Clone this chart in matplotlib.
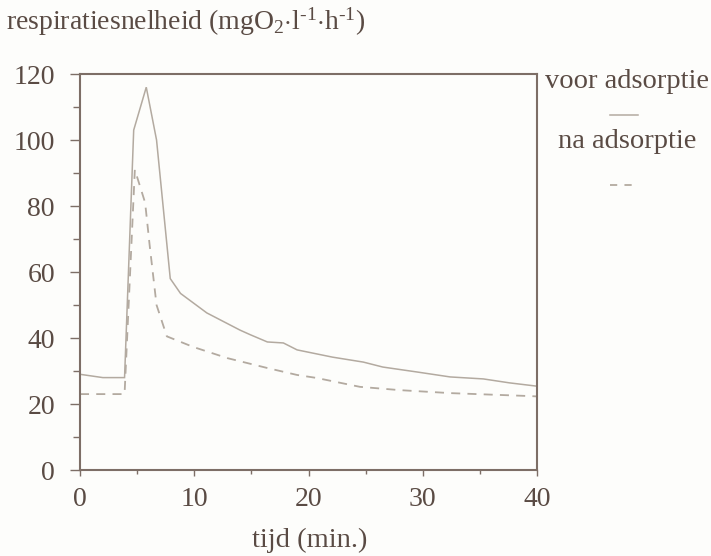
import matplotlib
matplotlib.use("Agg")
import matplotlib.pyplot as plt
from matplotlib.lines import Line2D

plt.rcParams['font.family'] = ['Liberation Serif', 'DejaVu Serif']
plt.rcParams['mathtext.fontset'] = 'custom'
plt.rcParams['mathtext.rm'] = 'Liberation Serif'
plt.rcParams['mathtext.it'] = 'Liberation Serif:italic'

# data
voor_t = [0, 2, 3.9, 4.7, 5.8, 6.7, 7.9, 8.8, 11.1, 14.0, 14.9, 16.4, 17.8, 19.0, 22.1, 24.8, 26.5, 29.5, 32.4, 35.3, 37.6, 40]
voor_r = [29, 28, 28, 103, 116, 100, 58, 53.5, 47.6, 42.4, 41, 38.8, 38.5, 36.4, 34.2, 32.7, 31.2, 29.7, 28.2, 27.6, 26.4, 25.4]
na_t = [0, 3.9, 4.8, 5.7, 6.1, 6.7, 7.6, 9.9, 12.9, 16.4, 19.0, 20.7, 24.5, 28.0, 32.4, 39.4, 40]
na_r = [23, 23, 91, 81, 68, 50, 40.5, 37.3, 33.9, 30.9, 28.8, 27.9, 25.2, 24.2, 23.3, 22.4, 22.3]
x_ticks = [0, 10, 20, 30, 40]
y_ticks = [0, 20, 40, 60, 80, 100, 120]

frame_c = '#7d6e66'
line_c = '#b3aaa0'
text_c = '#5a4b44'

fig = plt.figure(figsize=(7.11, 5.56), dpi=100)
fig.patch.set_facecolor('#fdfdfb')
ax = fig.add_axes([80/711, 1-470/556, (537-80)/711, (470-74)/556])
ax.set_facecolor('#fdfdfb')

ax.plot(voor_t, voor_r, color=line_c, lw=1.1, solid_joinstyle='miter')
ax.plot(na_t, na_r, color=line_c, lw=1.3, linestyle=(0, (5, 4)))

ax.set_xlim(0, 40)
ax.set_ylim(0, 120)
ax.set_xticks(x_ticks)
ax.set_yticks(y_ticks)
ax.set_xticks(range(0, 41, 5), minor=True)
ax.set_yticks(range(0, 121, 10), minor=True)
for s in ax.spines.values():
    s.set_color(frame_c)
    s.set_linewidth(1.5)
ax.tick_params(axis='both', which='both', direction='out', color=frame_c, width=1, labelcolor=text_c, labelsize=20)
ax.tick_params(axis='y', which='major', length=7, pad=11)
ax.tick_params(axis='y', which='minor', length=5)
ax.tick_params(axis='x', which='major', length=4, pad=8)
ax.tick_params(axis='x', which='minor', length=3)

fig.text(6/711, 1-22/556, r'respiratiesnelheid (mgO$_2$$\cdot$l$^{\text{-}1}$$\cdot$h$^{\text{-}1}$)',
         fontsize=20, color=text_c, ha='left', va='center')
fig.text(310/711, 1-540/556, 'tijd (min.)', fontsize=20.5, color=text_c, ha='center', va='center')

fig.text(627/711, 1-82/556, 'voor adsorptie', fontsize=20.5, color=text_c, ha='center', va='center')
fig.text(627/711, 1-142/556, 'na adsorptie', fontsize=20.5, color=text_c, ha='center', va='center')
fig.add_artist(Line2D([610/711, 638/711], [1-115/556, 1-115/556], color=line_c, lw=1.1))
fig.add_artist(Line2D([610/711, 638/711], [1-185/556, 1-185/556], color=line_c, lw=1.3, linestyle=(0, (4, 4))))

fig.savefig('out.png', dpi=100, facecolor=fig.get_facecolor())
